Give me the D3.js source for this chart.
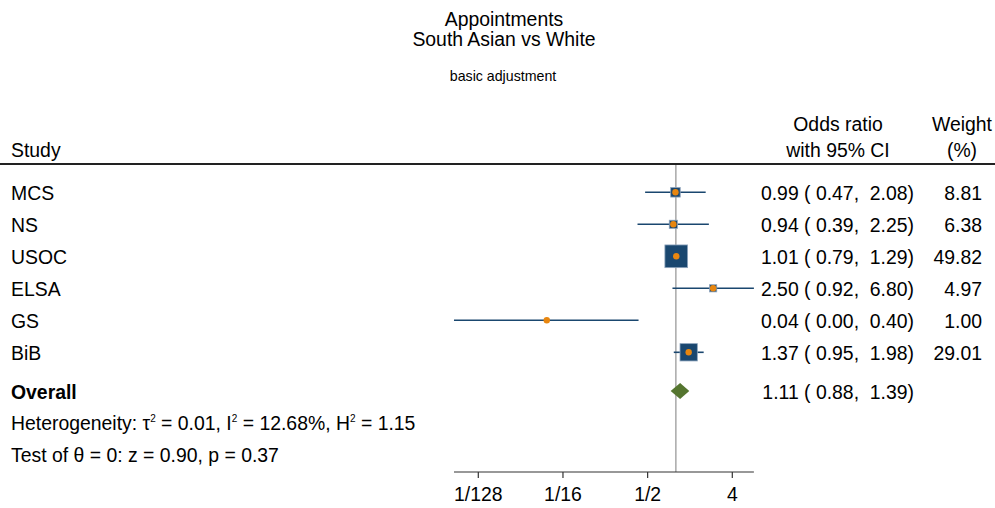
<!DOCTYPE html>
<html>
<head>
<meta charset="utf-8">
<script src="https://cdn.jsdelivr.net/npm/d3@7"></script>
<style>
  body { margin: 0; background: #fff; }
  svg { font-family: "Liberation Sans", Arial, sans-serif; }
  .pre { white-space: pre; }
</style>
</head>
<body>
<div id="chart"></div>
<script>
// forest plot: odds ratios by study
const studies = ['MCS', 'NS', 'USOC', 'ELSA', 'GS', 'BiB'];
const oddsRatio = [0.99, 0.94, 1.01, 2.50, 0.042, 1.37];
const ciLow = [0.47, 0.39, 0.79, 0.92, 0.0043, 0.95];
const ciHigh = [2.08, 2.25, 1.29, 6.80, 0.40, 1.98];
const weights = [8.81, 6.38, 49.82, 4.97, 1.00, 29.01];
const overall = [1.11, 0.88, 1.39];
const tickValues = [1 / 128, 1 / 16, 1 / 2, 4];
const tickLabels = ['1/128', '1/16', '1/2', '4'];

const W = 995, H = 508;
const FS = 19.4;
const svg = d3.select('#chart').append('svg').attr('width', W).attr('height', H);

const navy = '#1a476f', orange = '#e8860f', olive = '#55752f';

const x = d3.scaleLog().base(2).domain([1 / 128, 4]).range([478.3, 732.3]);
const rowY = d3.scalePoint().domain(studies).range([192.3, 352.3]);
const side = d3.scaleSqrt().domain([0, 49.82]).range([0, 22.7]);
const fmt = d3.format('.2f');
const ciText = (e, l, h) => `${fmt(e)} ( ${fmt(l)},  ${fmt(h)})`;

// titles
svg.append('text').attr('x', 504).attr('y', 25.7).attr('text-anchor', 'middle')
  .attr('font-size', 19.4).text('Appointments');
svg.append('text').attr('x', 504).attr('y', 45.7).attr('text-anchor', 'middle')
  .attr('font-size', 19.4).text('South Asian vs White');
svg.append('text').attr('x', 503).attr('y', 81).attr('text-anchor', 'middle')
  .attr('font-size', 14.2).text('basic adjustment');

// header
const hdr = svg.append('g').attr('font-size', FS).attr('fill', '#000');
hdr.append('text').attr('x', 11).attr('y', 157).text('Study');
hdr.append('text').attr('x', 838).attr('y', 131).attr('text-anchor', 'middle').text('Odds ratio');
hdr.append('text').attr('x', 838).attr('y', 157).attr('text-anchor', 'middle').text('with 95% CI');
hdr.append('text').attr('x', 962).attr('y', 131).attr('text-anchor', 'middle').text('Weight');
hdr.append('text').attr('x', 962).attr('y', 157).attr('text-anchor', 'middle').text('(%)');
svg.append('line').attr('x1', 0).attr('x2', W).attr('y1', 164).attr('y2', 164)
  .attr('stroke', '#222').attr('stroke-width', 2);

// no-effect line
svg.append('line').attr('x1', x(1)).attr('x2', x(1)).attr('y1', 165).attr('y2', 472)
  .attr('stroke', '#a8a8a8').attr('stroke-width', 1.5);

// study rows
const rows = svg.append('g').selectAll('g').data(studies).join('g')
  .attr('transform', d => `translate(0,${rowY(d)})`);

rows.append('line')
  .attr('x1', (d, i) => x(ciLow[i])).attr('x2', (d, i) => x(ciHigh[i]))
  .attr('stroke', navy).attr('stroke-width', 1.6);
rows.append('rect')
  .attr('x', (d, i) => x(oddsRatio[i]) - side(weights[i]) / 2)
  .attr('y', (d, i) => -side(weights[i]) / 2)
  .attr('width', (d, i) => side(weights[i]))
  .attr('height', (d, i) => side(weights[i]))
  .attr('fill', navy).attr('stroke', '#8ea4bc').attr('stroke-width', 0.8);
rows.append('circle')
  .attr('cx', (d, i) => x(oddsRatio[i])).attr('r', 3.2).attr('fill', orange);

rows.append('text').attr('x', 11).attr('y', 7.7).attr('font-size', FS).text(d => d);
rows.append('text').attr('class', 'pre').attr('x', 914).attr('y', 7.7)
  .attr('text-anchor', 'end').attr('font-size', FS)
  .text((d, i) => ciText(oddsRatio[i], ciLow[i], ciHigh[i]));
rows.append('text').attr('x', 982).attr('y', 7.7)
  .attr('text-anchor', 'end').attr('font-size', FS)
  .text((d, i) => fmt(weights[i]));

// overall
const oy = 391;
svg.append('text').attr('x', 11).attr('y', oy + 7.5)
  .attr('font-size', FS).attr('font-weight', 'bold').text('Overall');
svg.append('path')
  .attr('d', `M${x(overall[1])},${oy} L${x(overall[0])},${oy - 8} L${x(overall[2])},${oy} L${x(overall[0])},${oy + 8} Z`)
  .attr('fill', olive);
svg.append('text').attr('class', 'pre').attr('x', 914).attr('y', oy + 7.5)
  .attr('text-anchor', 'end').attr('font-size', FS)
  .text(ciText(overall[0], overall[1], overall[2]));

// heterogeneity notes
const het = svg.append('text').attr('x', 11).attr('y', 429.5).attr('font-size', FS);
het.append('tspan').text('Heterogeneity: \u03c4');
het.append('tspan').attr('font-size', 10).attr('dy', -8).text('2');
het.append('tspan').attr('dy', 8).text(' = 0.01, I');
het.append('tspan').attr('font-size', 10).attr('dy', -8).text('2');
het.append('tspan').attr('dy', 8).text(' = 12.68%, H');
het.append('tspan').attr('font-size', 10).attr('dy', -8).text('2');
het.append('tspan').attr('dy', 8).text(' = 1.15');
svg.append('text').attr('x', 11).attr('y', 462).attr('font-size', FS)
  .text('Test of \u03b8 = 0: z = 0.90, p = 0.37');

// axis
const axisG = svg.append('g').attr('transform', 'translate(0,472)');
axisG.append('line')
  .attr('x1', x(d3.min(ciLow))).attr('x2', x(d3.max(ciHigh)))
  .attr('stroke', '#333').attr('stroke-width', 1.2);
const ticks = axisG.selectAll('g.t').data(tickValues).join('g').attr('class', 't')
  .attr('transform', d => `translate(${x(d)},0)`);
ticks.append('line').attr('y2', 6).attr('stroke', '#333').attr('stroke-width', 1.2);
ticks.append('text').attr('y', 29).attr('text-anchor', 'middle').attr('font-size', FS)
  .text((d, i) => tickLabels[i]);
</script>
</body>
</html>
